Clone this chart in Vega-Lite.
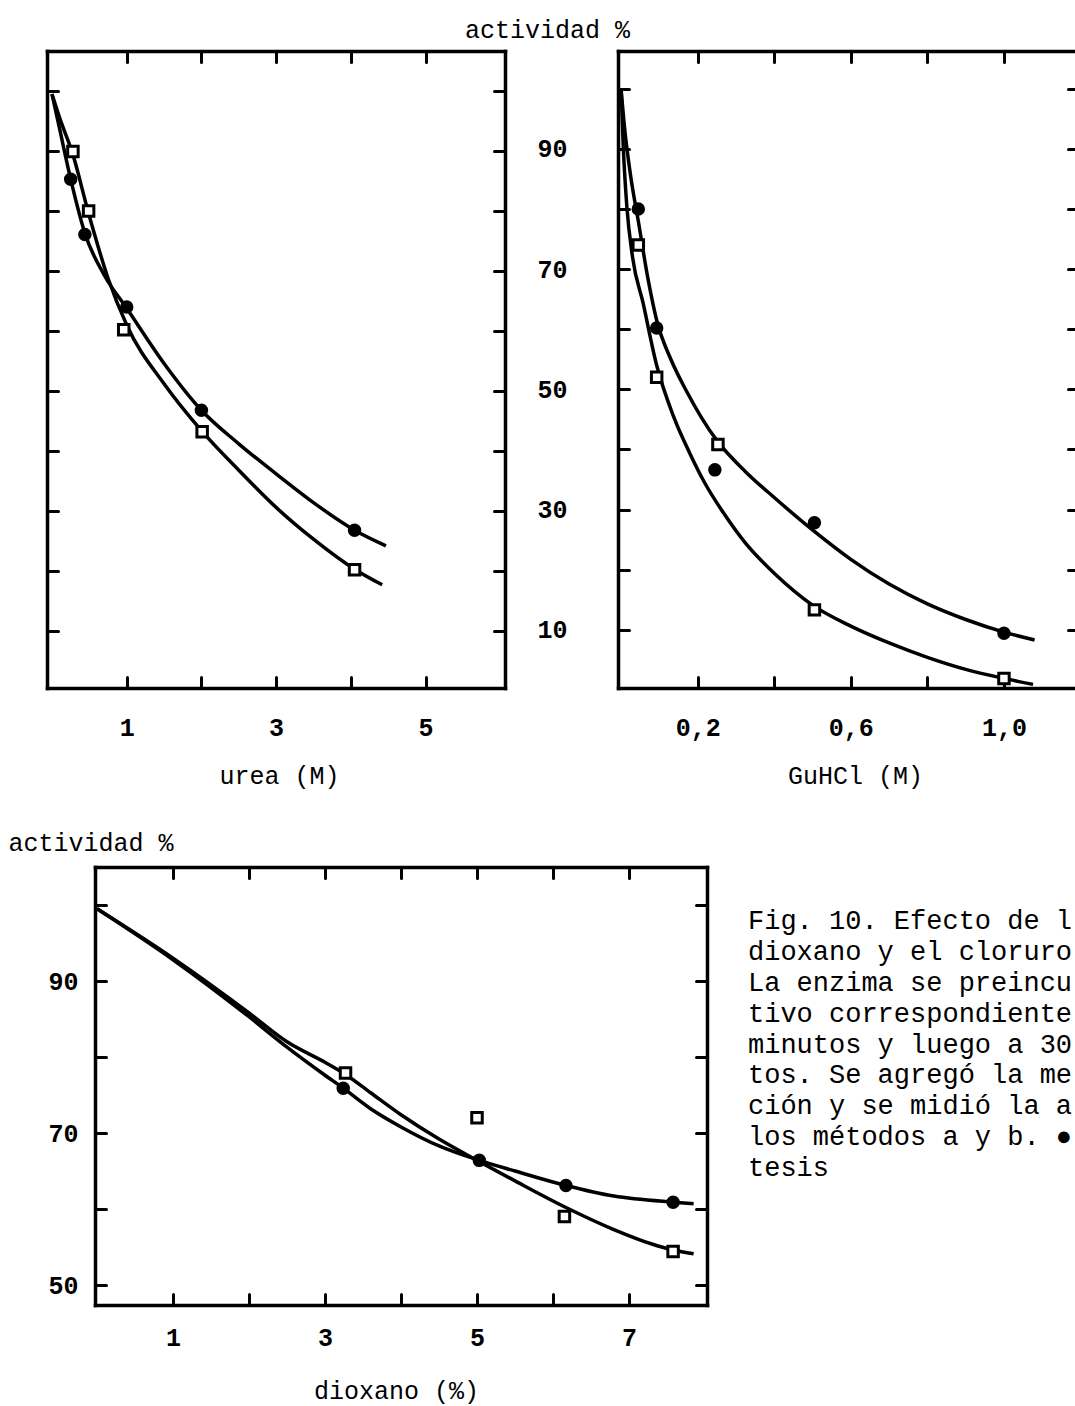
{
  "$schema": "https://vega.github.io/schema/vega-lite/v6.json",
  "width": 1075,
  "height": 1406,
  "autosize": "none",
  "padding": 0,
  "background": "white",
  "config": {
    "view": {"stroke": null},
    "axis": {
      "grid": false,
      "domainColor": "black",
      "domainWidth": 3.5,
      "domainCap": "square",
      "tickColor": "black",
      "tickWidth": 3,
      "tickSize": -11,
      "tickCap": "round",
      "labelColor": "black",
      "labelFont": "Liberation Mono",
      "labelFontSize": 25,
      "labelFontWeight": "bold",
      "labelOverlap": false,
      "labelFlush": false,
      "titleColor": "black",
      "titleFont": "Liberation Mono",
      "titleFontSize": 25,
      "titleFontWeight": "normal"
    }
  },
  "datasets": {
    "urea_curvas": [
      {"metodo": "a", "x": 0, "y": 99.5}, {"metodo": "a", "x": 0.1, "y": 93.8}, {"metodo": "a", "x": 0.25, "y": 85.3},
      {"metodo": "a", "x": 0.44, "y": 76.3}, {"metodo": "a", "x": 0.7, "y": 69.3}, {"metodo": "a", "x": 1.0, "y": 63.8},
      {"metodo": "a", "x": 1.5, "y": 54.6}, {"metodo": "a", "x": 2.0, "y": 46.8}, {"metodo": "a", "x": 2.5, "y": 41.2},
      {"metodo": "a", "x": 3.0, "y": 36.2}, {"metodo": "a", "x": 3.5, "y": 31.4}, {"metodo": "a", "x": 4.05, "y": 26.8},
      {"metodo": "a", "x": 4.47, "y": 24.2},
      {"metodo": "b", "x": 0, "y": 99.5}, {"metodo": "b", "x": 0.1, "y": 95.6}, {"metodo": "b", "x": 0.28, "y": 89.4},
      {"metodo": "b", "x": 0.49, "y": 79.6}, {"metodo": "b", "x": 0.75, "y": 68.8}, {"metodo": "b", "x": 1.0, "y": 61.0},
      {"metodo": "b", "x": 1.5, "y": 51.2}, {"metodo": "b", "x": 2.0, "y": 43.4}, {"metodo": "b", "x": 2.5, "y": 36.8},
      {"metodo": "b", "x": 3.0, "y": 30.6}, {"metodo": "b", "x": 3.5, "y": 25.3}, {"metodo": "b", "x": 4.05, "y": 20.3},
      {"metodo": "b", "x": 4.42, "y": 17.7}
    ],
    "urea_puntos": [
      {"metodo": "a", "x": 0.25, "y": 85.3}, {"metodo": "a", "x": 0.44, "y": 76.1}, {"metodo": "a", "x": 1.0, "y": 64.0},
      {"metodo": "a", "x": 2.0, "y": 46.8}, {"metodo": "a", "x": 4.05, "y": 26.8},
      {"metodo": "b", "x": 0.28, "y": 89.9}, {"metodo": "b", "x": 0.49, "y": 80.0}, {"metodo": "b", "x": 0.96, "y": 60.2},
      {"metodo": "b", "x": 2.01, "y": 43.2}, {"metodo": "b", "x": 4.05, "y": 20.2}
    ],
    "guhcl_curvas": [
      {"metodo": "a", "x": 0, "y": 100}, {"metodo": "a", "x": 0.01, "y": 93}, {"metodo": "a", "x": 0.025, "y": 85.5},
      {"metodo": "a", "x": 0.045, "y": 78}, {"metodo": "a", "x": 0.07, "y": 68.5}, {"metodo": "a", "x": 0.093, "y": 61.5},
      {"metodo": "a", "x": 0.13, "y": 55}, {"metodo": "a", "x": 0.17, "y": 49.8}, {"metodo": "a", "x": 0.21, "y": 45.3},
      {"metodo": "a", "x": 0.25, "y": 41.5}, {"metodo": "a", "x": 0.325, "y": 36.3}, {"metodo": "a", "x": 0.4, "y": 32.0},
      {"metodo": "a", "x": 0.5, "y": 26.6}, {"metodo": "a", "x": 0.6, "y": 21.7}, {"metodo": "a", "x": 0.7, "y": 17.6},
      {"metodo": "a", "x": 0.8, "y": 14.3}, {"metodo": "a", "x": 0.9, "y": 11.7}, {"metodo": "a", "x": 1.0, "y": 9.6},
      {"metodo": "a", "x": 1.08, "y": 8.3},
      {"metodo": "b", "x": 0, "y": 100}, {"metodo": "b", "x": 0.006, "y": 90}, {"metodo": "b", "x": 0.015, "y": 80.5},
      {"metodo": "b", "x": 0.03, "y": 72}, {"metodo": "b", "x": 0.057, "y": 64.5}, {"metodo": "b", "x": 0.093, "y": 54},
      {"metodo": "b", "x": 0.137, "y": 45.5}, {"metodo": "b", "x": 0.18, "y": 39.3}, {"metodo": "b", "x": 0.218, "y": 34.5},
      {"metodo": "b", "x": 0.27, "y": 29.2}, {"metodo": "b", "x": 0.325, "y": 24.4}, {"metodo": "b", "x": 0.4, "y": 19.4},
      {"metodo": "b", "x": 0.5, "y": 14.1}, {"metodo": "b", "x": 0.6, "y": 10.6}, {"metodo": "b", "x": 0.7, "y": 7.8},
      {"metodo": "b", "x": 0.8, "y": 5.4}, {"metodo": "b", "x": 0.9, "y": 3.4}, {"metodo": "b", "x": 1.0, "y": 1.9},
      {"metodo": "b", "x": 1.076, "y": 0.9}
    ],
    "guhcl_puntos": [
      {"metodo": "a", "x": 0.045, "y": 80}, {"metodo": "a", "x": 0.093, "y": 60.2}, {"metodo": "a", "x": 0.245, "y": 36.6},
      {"metodo": "a", "x": 0.505, "y": 27.8}, {"metodo": "a", "x": 1.0, "y": 9.4},
      {"metodo": "b", "x": 0.045, "y": 74}, {"metodo": "b", "x": 0.093, "y": 52}, {"metodo": "b", "x": 0.253, "y": 40.8},
      {"metodo": "b", "x": 0.505, "y": 13.3}, {"metodo": "b", "x": 1.0, "y": 1.9}
    ],
    "dioxano_curvas": [
      {"metodo": "a", "x": 0, "y": 99.5}, {"metodo": "a", "x": 1, "y": 92.8}, {"metodo": "a", "x": 2, "y": 85.3},
      {"metodo": "a", "x": 2.5, "y": 81.3}, {"metodo": "a", "x": 3.0, "y": 77.6}, {"metodo": "a", "x": 3.24, "y": 75.9},
      {"metodo": "a", "x": 3.6, "y": 73.2}, {"metodo": "a", "x": 4.0, "y": 70.8}, {"metodo": "a", "x": 4.5, "y": 68.3},
      {"metodo": "a", "x": 5.03, "y": 66.4}, {"metodo": "a", "x": 5.5, "y": 65.0}, {"metodo": "a", "x": 6.17, "y": 63.1},
      {"metodo": "a", "x": 6.8, "y": 61.7}, {"metodo": "a", "x": 7.58, "y": 60.9}, {"metodo": "a", "x": 7.85, "y": 60.7},
      {"metodo": "b", "x": 0, "y": 99.5}, {"metodo": "b", "x": 1, "y": 93.0}, {"metodo": "b", "x": 2, "y": 85.8},
      {"metodo": "b", "x": 2.5, "y": 82.0}, {"metodo": "b", "x": 3.0, "y": 79.3}, {"metodo": "b", "x": 3.27, "y": 77.7},
      {"metodo": "b", "x": 3.6, "y": 75.3}, {"metodo": "b", "x": 4.0, "y": 72.4}, {"metodo": "b", "x": 4.5, "y": 69.2},
      {"metodo": "b", "x": 5.0, "y": 66.4}, {"metodo": "b", "x": 5.5, "y": 63.7}, {"metodo": "b", "x": 6.15, "y": 60.3},
      {"metodo": "b", "x": 6.8, "y": 57.3}, {"metodo": "b", "x": 7.3, "y": 55.4}, {"metodo": "b", "x": 7.58, "y": 54.6},
      {"metodo": "b", "x": 7.85, "y": 54.1}
    ],
    "dioxano_puntos": [
      {"metodo": "a", "x": 3.24, "y": 75.9}, {"metodo": "a", "x": 5.03, "y": 66.4}, {"metodo": "a", "x": 6.17, "y": 63.1},
      {"metodo": "a", "x": 7.58, "y": 60.9},
      {"metodo": "b", "x": 3.27, "y": 77.9}, {"metodo": "b", "x": 5.0, "y": 72.0}, {"metodo": "b", "x": 6.15, "y": 59.0},
      {"metodo": "b", "x": 7.58, "y": 54.4}
    ],
    "leyenda": [
      {"linea": 1, "col": 0, "texto": "Fig. 10. Efecto de l"},
      {"linea": 2, "col": 0, "texto": "dioxano y el cloruro"},
      {"linea": 3, "col": 0, "texto": "La enzima se preincu"},
      {"linea": 4, "col": 0, "texto": "tivo correspondiente"},
      {"linea": 5, "col": 0, "texto": "minutos y luego a 30"},
      {"linea": 6, "col": 0, "texto": "tos. Se agregó la me"},
      {"linea": 7, "col": 0, "texto": "ción y se midió la a"},
      {"linea": 8, "col": 0, "texto": "los métodos a y b. ●"},
      {"linea": 9, "col": 0, "texto": "tesis"}
    ]
  },
  "layer": [
    {
      "layer": [
        {
          "data": {"name": "urea_curvas"},
          "mark": {"type": "line", "stroke": "black", "strokeWidth": 3.5, "interpolate": "monotone"},
          "encoding": {
            "x": {"field": "x", "type": "quantitative",
                  "scale": {"domain": [-0.067, 6.064], "range": [47, 505], "nice": false, "zero": false},
                  "axis": {"orient": "top", "offset": -51, "values": [1, 2, 3, 4, 5], "labels": false, "title": null}},
            "y": {"field": "y", "type": "quantitative",
                  "scale": {"domain": [0.5, 106.67], "range": [688, 51], "nice": false, "zero": false},
                  "axis": {"orient": "right", "offset": -570, "values": [10, 20, 30, 40, 50, 60, 70, 80, 90, 100], "labels": false, "title": null}},
            "detail": {"field": "metodo", "type": "nominal"}
          }
        },
        {
          "data": {"name": "urea_puntos"},
          "mark": {"type": "point", "filled": true, "stroke": "black", "strokeWidth": 3, "size": 110, "opacity": 1},
          "encoding": {
            "x": {"field": "x", "type": "quantitative",
                  "scale": {"domain": [-0.067, 6.064], "range": [47, 505], "nice": false, "zero": false},
                  "axis": {"orient": "bottom", "offset": -718, "values": [1, 2, 3, 4, 5],
                           "labelExpr": "datum.value % 2 == 1 ? datum.label : ''",
                           "labelBaseline": "middle", "labelPadding": 50,
                           "title": "urea (M)", "titleX": 279, "titleY": 87, "titleAlign": "center", "titleBaseline": "middle"}},
            "y": {"field": "y", "type": "quantitative",
                  "scale": {"domain": [0.5, 106.67], "range": [688, 51], "nice": false, "zero": false},
                  "axis": {"orient": "left", "offset": -47, "values": [10, 20, 30, 40, 50, 60, 70, 80, 90, 100], "labels": false, "title": null}},
            "shape": {"field": "metodo", "type": "nominal", "scale": {"domain": ["a", "b"], "range": ["circle", "square"]}, "legend": null},
            "fill": {"field": "metodo", "type": "nominal", "scale": {"domain": ["a", "b"], "range": ["black", "white"]}, "legend": null}
          }
        }
      ]
    },
    {
      "layer": [
        {
          "data": {"name": "guhcl_curvas"},
          "mark": {"type": "line", "stroke": "black", "strokeWidth": 3.5, "interpolate": "monotone"},
          "encoding": {
            "x": {"field": "x", "type": "quantitative",
                  "scale": {"domain": [-0.008, 1.196], "range": [618, 1079], "nice": false, "zero": false},
                  "axis": {"orient": "top", "offset": -51, "values": [0.2, 0.4, 0.6, 0.8, 1.0], "labels": false, "title": null}},
            "y": {"field": "y", "type": "quantitative",
                  "scale": {"domain": [0.3, 106.3], "range": [688, 51], "nice": false, "zero": false},
                  "axis": {"orient": "right", "offset": 4, "values": [10, 20, 30, 40, 50, 60, 70, 80, 90, 100], "labels": false, "title": null}},
            "detail": {"field": "metodo", "type": "nominal"}
          }
        },
        {
          "data": {"name": "guhcl_puntos"},
          "mark": {"type": "point", "filled": true, "stroke": "black", "strokeWidth": 3, "size": 110, "opacity": 1},
          "encoding": {
            "x": {"field": "x", "type": "quantitative",
                  "scale": {"domain": [-0.008, 1.196], "range": [618, 1079], "nice": false, "zero": false},
                  "axis": {"orient": "bottom", "offset": -718, "values": [0.2, 0.4, 0.6, 0.8, 1.0],
                           "labelExpr": "datum.value == 0.4 || datum.value == 0.8 ? '' : replace(format(datum.value, '.1f'), '.', ',')",
                           "labelBaseline": "middle", "labelPadding": 50,
                           "title": "GuHCl (M)", "titleX": 855, "titleY": 87, "titleAlign": "center", "titleBaseline": "middle"}},
            "y": {"field": "y", "type": "quantitative",
                  "scale": {"domain": [0.3, 106.3], "range": [688, 51], "nice": false, "zero": false},
                  "axis": {"orient": "left", "offset": -618, "values": [10, 20, 30, 40, 50, 60, 70, 80, 90, 100],
                           "labelExpr": "datum.value % 20 == 10 ? datum.label : ''",
                           "labelPadding": 62, "labelBaseline": "middle",
                           "title": "actividad %", "titleAngle": 0, "titleX": -71, "titleY": 17, "titleAlign": "center", "titleBaseline": "top"}},
            "shape": {"field": "metodo", "type": "nominal", "scale": {"domain": ["a", "b"], "range": ["circle", "square"]}, "legend": null},
            "fill": {"field": "metodo", "type": "nominal", "scale": {"domain": ["a", "b"], "range": ["black", "white"]}, "legend": null}
          }
        }
      ]
    },
    {
      "layer": [
        {
          "data": {"name": "dioxano_curvas"},
          "mark": {"type": "line", "stroke": "black", "strokeWidth": 3.5, "interpolate": "monotone"},
          "encoding": {
            "x": {"field": "x", "type": "quantitative",
                  "scale": {"domain": [-0.026, 8.026], "range": [95, 707], "nice": false, "zero": false},
                  "axis": {"orient": "top", "offset": -867, "values": [1, 2, 3, 4, 5, 6, 7], "labels": false, "title": null}},
            "y": {"field": "y", "type": "quantitative",
                  "scale": {"domain": [47.37, 105], "range": [1305, 867], "nice": false, "zero": false},
                  "axis": {"orient": "right", "offset": -368, "values": [50, 60, 70, 80, 90, 100], "labels": false, "title": null}},
            "detail": {"field": "metodo", "type": "nominal"}
          }
        },
        {
          "data": {"name": "dioxano_puntos"},
          "mark": {"type": "point", "filled": true, "stroke": "black", "strokeWidth": 3, "size": 110, "opacity": 1},
          "encoding": {
            "x": {"field": "x", "type": "quantitative",
                  "scale": {"domain": [-0.026, 8.026], "range": [95, 707], "nice": false, "zero": false},
                  "axis": {"orient": "bottom", "offset": -101, "values": [1, 2, 3, 4, 5, 6, 7],
                           "labelExpr": "datum.value % 2 == 1 ? datum.label : ''",
                           "labelBaseline": "middle", "labelPadding": 43,
                           "title": "dioxano (%)", "titleX": 396, "titleY": 85, "titleAlign": "center", "titleBaseline": "middle"}},
            "y": {"field": "y", "type": "quantitative",
                  "scale": {"domain": [47.37, 105], "range": [1305, 867], "nice": false, "zero": false},
                  "axis": {"orient": "left", "offset": -95, "values": [50, 60, 70, 80, 90, 100],
                           "labelExpr": "datum.value % 20 == 10 ? datum.label : ''",
                           "labelPadding": 28, "labelBaseline": "middle",
                           "title": "actividad %", "titleAngle": 0, "titleX": -87, "titleY": 842, "titleAlign": "left", "titleBaseline": "middle"}},
            "shape": {"field": "metodo", "type": "nominal", "scale": {"domain": ["a", "b"], "range": ["circle", "square"]}, "legend": null},
            "fill": {"field": "metodo", "type": "nominal", "scale": {"domain": ["a", "b"], "range": ["black", "white"]}, "legend": null}
          }
        }
      ]
    },
    {
      "data": {"name": "leyenda"},
      "mark": {"type": "text", "align": "left", "baseline": "middle", "font": "Liberation Mono", "fontSize": 27, "color": "black"},
      "encoding": {
        "x": {"field": "col", "type": "quantitative", "scale": {"domain": [0, 1], "range": [748, 1075], "nice": false, "zero": false}, "axis": null},
        "y": {"field": "linea", "type": "quantitative", "scale": {"domain": [1, 9], "range": [921, 1168], "nice": false, "zero": false}, "axis": null},
        "text": {"field": "texto", "type": "nominal"}
      }
    }
  ],
  "resolve": {"scale": {"x": "independent", "y": "independent"}}
}
